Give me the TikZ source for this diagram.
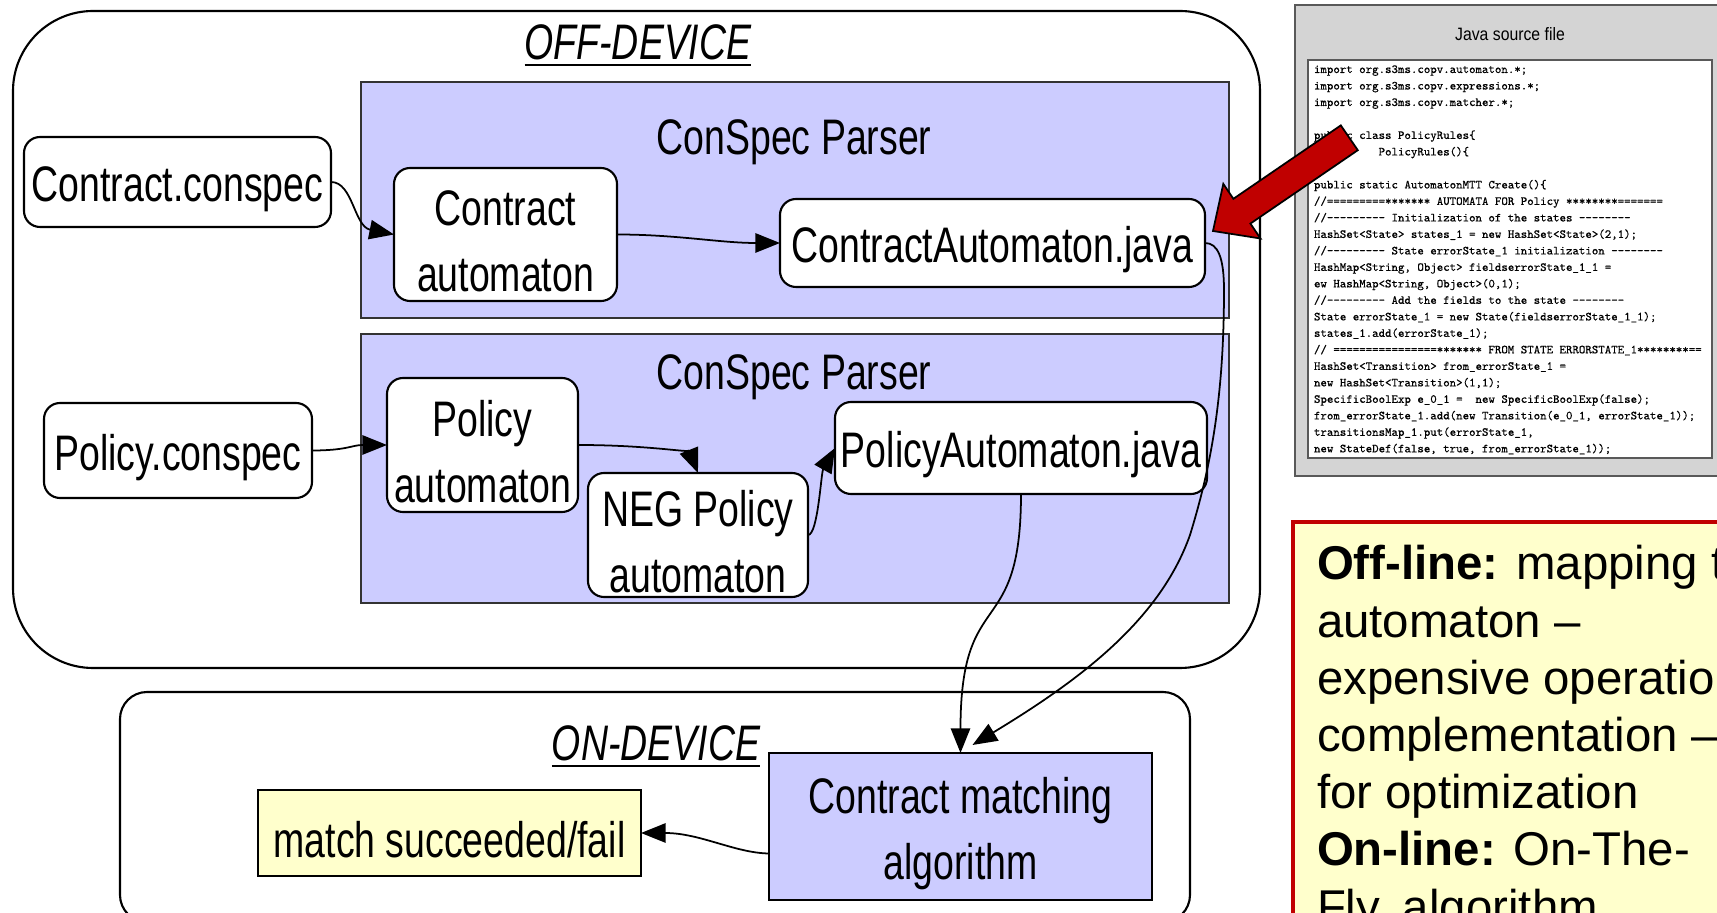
\documentclass[tikz,border=0pt]{standalone}
\usepackage{fontspec}
\setmainfont{Liberation Sans}
\setmonofont[FakeBold=0.5]{lmmono10-regular.otf}
\newfontfamily\dfont[FakeStretch=0.75]{Liberation Sans}
\newfontfamily\tfont[FakeStretch=0.88]{Liberation Sans}
\usetikzlibrary{calc,fit,arrows.meta}

\definecolor{parser}{RGB}{204,204,255}
\definecolor{note}{RGB}{255,255,204}
\definecolor{panel}{RGB}{212,212,212}
\definecolor{redb}{RGB}{192,0,0}

\tikzset{
  every node/.style={inner sep=0pt, outer sep=0pt},
  dtext/.style={font=\dfont\fontsize{14.2}{18.7}\selectfont, align=center},
  blabel/.style={dtext, yshift=-0.07cm},
  dital/.style={font=\dfont\itshape\fontsize{14.2}{18.7}\selectfont},
  rbox/.style={draw=black, line width=0.6pt, fill=white, rounded corners=0.16cm},
  pbox/.style={draw=black!80, line width=0.6pt, fill=parser},
  bbox/.style={draw=black, line width=0.6pt, fill=parser},
  ybox/.style={draw=black, line width=0.6pt, fill=note},
  region/.style={draw=black, line width=0.6pt},
  conn/.style={line width=0.5pt, -{Triangle[length=7pt,width=5.5pt]}},
}

\begin{document}
\begin{tikzpicture}[x=0.01cm, y=-0.01cm]
\useasboundingbox (0,0) rectangle (1717,913);
\clip (0,0) rectangle (1717,913);

% ---------- off-device region ----------
\node[region, rounded corners=0.8cm, fit={(13,11) (1260,668)}] (offdev) {};
\node[dital, anchor=base] (offt) at (638,60) {OFF-DEVICE};
\draw[line width=0.8pt] ($(offt.base west)+(0,5)$) -- ($(offt.base east)+(0,5)$);

% parser blocks
\node[pbox, fit={(361,82) (1229,318)}] (cp1) {};
\node[dtext, anchor=base] (cp1t) at (794,155) {ConSpec Parser};
\node[pbox, fit={(361,334) (1229,603)}] (cp2) {};
\node[dtext, anchor=base] (cp2t) at (794,390) {ConSpec Parser};

% contract chain
\node[rbox, fit={(24,137) (331,227)}] (cc) {};
\node[blabel] (cct) at (cc.center) {Contract.conspec};
\node[rbox, fit={(394,168) (617,301)}] (ca) {};
\node[blabel] (cat) at (ca.center) {Contract\\automaton};
\node[rbox, fit={(780,199) (1205,287)}] (cj) {};
\node[blabel] (cjt) at (cj.center) {ContractAutomaton.java};

% policy chain
\node[rbox, fit={(44,403) (312,498)}] (pc) {};
\node[blabel] (pct) at (pc.center) {Policy.conspec};
\node[rbox, fit={(387,378) (578,512)}] (pa) {};
\node[blabel] (pat) at (pa.center) {Policy\\automaton};
\node[rbox, fit={(588,473) (808,597)}] (neg) {};
\node[blabel] (negt) at (neg.center) {NEG Policy\\automaton};
\node[rbox, fit={(835,402) (1207,494)}] (pj) {};
\node[blabel] (pjt) at (pj.center) {PolicyAutomaton.java};

% ---------- on-device region ----------
\node[region, rounded corners=0.27cm, fit={(120,692) (1190,922)}] (ondev) {};
\node[dital, anchor=base] (ont) at (656,761) {ON-DEVICE};
\draw[line width=0.8pt] ($(ont.base west)+(0,5)$) -- ($(ont.base east)+(0,5)$);
\node[bbox, fit={(769,753) (1152,900)}] (cm) {};
\node[blabel] (cmt) at (cm.center) {Contract matching\\algorithm};
\node[ybox, fit={(258,790) (641,876)}] (ms) {};
\node[blabel] (mst) at (ms.center) {match succeeded/fail};

% ---------- connectors ----------
\draw[conn] (cc.east) .. controls ($(cc.east)+(22,0)$) and ($(ca.west)+(-40,-8)$) .. (ca.west);
\draw[conn] (ca.east) .. controls ($(ca.east)+(60,0)$) and ($(cj.west)+(-60,0)$) .. (cj.west);
\draw[conn] (pc.east) .. controls ($(pc.east)+(35,0)$) and ($(pa.west)+(-35,0)$) .. (pa.west);
\draw[conn] (pa.east) .. controls ($(pa.east)+(70,0)$) and ($(neg.north)+(-8,-20)$) .. (neg.north);
\draw[conn] (neg.east) .. controls ($(neg.east)+(10,0)$) and ($(pj.west)+(-14,25)$) .. (pj.west);
\draw[conn] (pj.south) .. controls ($(pj.south)+(0,150)$) and ($(cm.north)+(0,-170)$) .. (cm.north);
\coordinate (cmin) at ($(cm.north)+(12,-8)$);
\draw[conn] (cj.east) .. controls (1218,243) and (1224,258) .. (1224,290)
  .. controls (1224,400) and (1210,470) .. (1190,535)
  .. controls (1160,620) and (1080,680) .. (cmin);
\coordinate (cmout) at ($(cm.west)+(0,27)$);
\draw[conn] (cmout) .. controls (735,853) and (700,833) .. (ms.east);

% ---------- generated Java source ----------
\node[draw=black!65, line width=0.6pt, fill=panel, fit={(1295,5) (1740,476)}] (jpanel) {};
\node[font=\tfont\fontsize{5.1}{6}\selectfont, anchor=base] (jtitle) at (1510,41) {Java source file};
\node[draw=black!65, line width=0.6pt, fill=white, fit={(1308,60) (1712,458)}] (jcode) {};
\node[anchor=base west] (code) at (1314,73) {\parbox[t]{8cm}{\ttfamily\fontsize{3.5}{4.69}\selectfont
import org.s3ms.copv.automaton.*;\\
import org.s3ms.copv.expressions.*;\\
import org.s3ms.copv.matcher.*;\\
\mbox{}\\
public class PolicyRules\{\\
\phantom{PolicyRule}PolicyRules()\{\\
\mbox{}\\
public static AutomatonMTT Create()\{\\
//=========******* AUTOMATA FOR Policy ********=======\\
//--------- Initialization of the states --------\\
HashSet<State> states\_1 = new HashSet<State>(2,1);\\
//--------- State errorState\_1 initialization --------\\
HashMap<String, Object> fieldserrorState\_1\_1 =\\
ew HashMap<String, Object>(0,1);\\
//--------- Add the fields to the state --------\\
State errorState\_1 = new State(fieldserrorState\_1\_1);\\
states\_1.add(errorState\_1);\\
// ================******* FROM STATE ERRORSTATE\_1********==\\
HashSet<Transition> from\_errorState\_1 =\\
new HashSet<Transition>(1,1);\\
SpecificBoolExp e\_0\_1 =\ \ new SpecificBoolExp(false);\\
from\_errorState\_1.add(new Transition(e\_0\_1, errorState\_1));\\
transitionsMap\_1.put(errorState\_1,\\
new StateDef(false, true, from\_errorState\_1));}};

% pointer from the source file to the generated class
\draw[fill=redb, line width=0.5pt, line join=miter]
  (1213,231) -- (1260.5,238.5) -- (1250.4,223.6) -- (1357.8,150.2)
  -- (1340.8,125.4) -- (1233.4,198.8) -- (1223.3,183.9) -- cycle;

% ---------- explanatory note ----------
\node[draw=redb, line width=1.3pt, fill=note, fit={(1293,522) (1740,940)}] (notebox) {};
\node[anchor=base west] (notetext) at (1317,580) {\parbox[t]{12cm}{\fontsize{13.48}{16.26}\selectfont
\textbf{Off-line:} mapping to\\
automaton –\\
expensive operation;\\
complementation –\\
for optimization\\
\textbf{On-line:} On-The-\\
Fly, algorithm}};
\end{tikzpicture}
\end{document}
